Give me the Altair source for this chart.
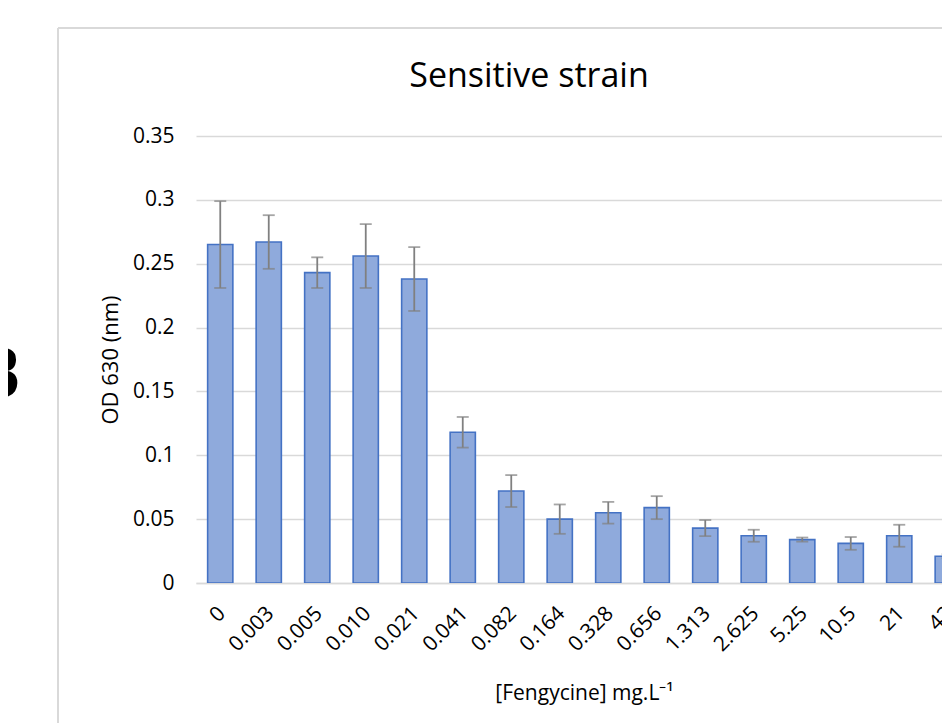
import altair as alt
import pandas as pd

categories = ["0", "0.003", "0.005", "0.010", "0.021", "0.041", "0.082", "0.164",
              "0.328", "0.656", "1.313", "2.625", "5.25", "10.5", "21", "42"]
od_values = [0.265, 0.267, 0.243, 0.256, 0.238, 0.118, 0.072, 0.050,
             0.055, 0.059, 0.043, 0.037, 0.034, 0.031, 0.037, 0.021]
od_errors = [0.034, 0.021, 0.012, 0.025, 0.025, 0.012, 0.0125, 0.0115,
             0.0085, 0.009, 0.0063, 0.0047, 0.0016, 0.005, 0.0086, 0.0015]

df = pd.DataFrame({"conc": categories, "od": od_values, "err": od_errors})
df["lo"] = df["od"] - df["err"]
df["hi"] = df["od"] + df["err"]

FONT = "Open Sans"
PLOT_W = 746
FULL_W = 776
PLOT_H = 447

xscale = alt.Scale(domain=categories, range=[0, FULL_W], paddingInner=0.48, paddingOuter=0.24)
x_axis = alt.Axis(title="[Fengycine] mg.L⁻¹", labelAngle=-45, labelAlign="right",
                  labelBaseline="middle", labelFontSize=21, labelFont=FONT,
                  labelColor="#000000", labelPadding=27, labelOffset=2, ticks=False,
                  domainColor="#d9d9d9", domainWidth=1.3, labelOverlap=False,
                  titleFont=FONT, titleFontSize=21, titleFontWeight="normal",
                  titleColor="#000000", titleX=FULL_W / 2, titleY=110,
                  titleBaseline="middle")

yscale = alt.Scale(domain=[0, 0.35], nice=False)
y_axis = alt.Axis(title="OD 630 (nm)", values=[0, 0.05, 0.1, 0.15, 0.2, 0.25, 0.3, 0.35],
                  labelExpr="format(datum.value, '.2~f')",
                  labelFontSize=21, labelFont=FONT, labelColor="#000000", labelPadding=22,
                  ticks=False, domain=False, gridColor="#d9d9d9", gridWidth=1.3,
                  titleFont=FONT, titleFontSize=22, titleFontWeight="normal",
                  titleColor="#000000", titleX=-86, titleY=PLOT_H / 2,
                  titleAngle=-90, titleBaseline="middle", titleAlign="center")

bars = alt.Chart(df).mark_bar(fill="#8faadc", stroke="#4472c4", strokeWidth=1.6, clip=True).encode(
    x=alt.X("conc:N", sort=categories, scale=xscale, axis=x_axis),
    y=alt.Y("od:Q", scale=yscale, axis=y_axis),
)

err_rule = alt.Chart(df).mark_rule(color="#808080", strokeWidth=1.8, clip=True).encode(
    x=alt.X("conc:N", sort=categories, scale=xscale),
    y=alt.Y("lo:Q", scale=yscale),
    y2="hi:Q",
)
cap_lo = alt.Chart(df).mark_tick(color="#808080", thickness=1.8, size=12, orient="horizontal", clip=True).encode(
    x=alt.X("conc:N", sort=categories, scale=xscale),
    y=alt.Y("lo:Q", scale=yscale),
)
cap_hi = alt.Chart(df).mark_tick(color="#808080", thickness=1.8, size=12, orient="horizontal", clip=True).encode(
    x=alt.X("conc:N", sort=categories, scale=xscale),
    y=alt.Y("hi:Q", scale=yscale),
)

frame_df = pd.DataFrame({"k": [0]})
frame_v = alt.Chart(frame_df).mark_rule(color="#d9d9d9", strokeWidth=2).encode(
    x=alt.value(-138), y=alt.value(-108), y2=alt.value(620))
frame_h = alt.Chart(frame_df).mark_rule(color="#d9d9d9", strokeWidth=2).encode(
    x=alt.value(-138), x2=alt.value(800), y=alt.value(-108))
label_b = alt.Chart(frame_df).mark_text(text="B", font="Open Sans", fontSize=72,
                                        fontWeight="bold", align="right", baseline="alphabetic",
                                        color="#000000").encode(
    x=alt.value(-175), y=alt.value(262))
title_txt = alt.Chart(frame_df).mark_text(text="Sensitive strain", font=FONT, fontSize=34,
                                          align="center", baseline="alphabetic",
                                          color="#000000").encode(
    x=alt.value(333), y=alt.value(-49))

chart = alt.layer(frame_v, frame_h, label_b, title_txt, bars, err_rule, cap_lo, cap_hi).properties(
    width=PLOT_W,
    height=PLOT_H,
    autosize=alt.AutoSizeParams(type="none"),
    padding={"left": 188, "top": 128, "right": 0, "bottom": 140},
    background="white",
).configure_view(stroke=None)

chart.save("out.html", embed_options={"renderer": "svg", "actions": False})
